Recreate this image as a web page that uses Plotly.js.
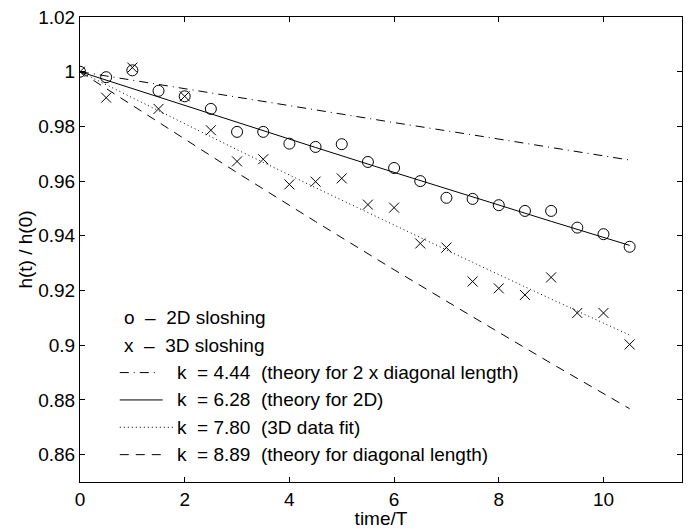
<!DOCTYPE html>
<html>
<head>
<meta charset="utf-8">
<script src="https://cdn.plot.ly/plotly-3.0.1.min.js"></script>
<style>html,body{margin:0;padding:0;background:#fff;}#chart{width:690px;height:529px;}</style>
</head>
<body>
<div id="chart"></div>
<script>
// time / T sample points
const timeT = [0, 0.5, 1, 1.5, 2, 2.5, 3, 3.5, 4, 4.5, 5, 5.5, 6, 6.5, 7, 7.5, 8, 8.5, 9, 9.5, 10, 10.5];
// 2D sloshing (circles)
const slosh2D = [1.000, 0.998, 1.0005, 0.993, 0.991, 0.9864, 0.978, 0.978, 0.9737, 0.9725, 0.9735, 0.967, 0.9648, 0.960, 0.9539, 0.9535, 0.9512, 0.9491, 0.9491, 0.943, 0.9406, 0.936];
// 3D sloshing (crosses)
const slosh3D = [1.000, 0.9905, 1.0015, 0.9864, 0.991, 0.9786, 0.9672, 0.968, 0.9588, 0.9598, 0.961, 0.9514, 0.9503, 0.9372, 0.9357, 0.9233, 0.9208, 0.9184, 0.9248, 0.9118, 0.9118, 0.9003];
// theory / fit curves
const lineT = [0, 1.5, 3, 4.5, 6, 7.5, 9, 10.5];
const k444 = [1, 0.9953, 0.9907, 0.9860, 0.9814, 0.9769, 0.9723, 0.9677];
const k628 = [1, 0.9907, 0.9814, 0.9723, 0.9632, 0.9542, 0.9453, 0.9365];
const k780 = [1, 0.9856, 0.9715, 0.9576, 0.9438, 0.9303, 0.9169, 0.9037];
const k889 = [1, 0.9814, 0.9631, 0.9452, 0.9276, 0.9104, 0.8934, 0.8768];
// tick labels
const xTickVals = [0, 2, 4, 6, 8, 10];
const xTickText = ['0', '2', '4', '6', '8', '10'];
const yTickVals = [0.86, 0.88, 0.90, 0.92, 0.94, 0.96, 0.98, 1.00, 1.02];
const yTickText = ['0.86', '0.88', '0.9', '0.92', '0.94', '0.96', '0.98', '1', '1.02'];
// legend text
const legendText = [
  'o  \u2013  2D sloshing',
  'x  \u2013  3D sloshing',
  'k  = 4.44  (theory for 2 x diagonal length)',
  'k  = 6.28  (theory for 2D)',
  'k  = 7.80  (3D data fit)',
  'k  = 8.89  (theory for diagonal length)'
];
const legendY = [0.91, 0.90, 0.89, 0.88, 0.87, 0.86];

const FONT = 'Liberation Sans, Arial, Helvetica, sans-serif';
const FS = 19;
const dashDot = '9px,5px,1px,5px';
const dashed = '9px,7px';
const dotted = '1px,3px';

const traces = [
  {x: lineT, y: k444, mode: 'lines', line: {color: '#000', width: 1, dash: dashDot}},
  {x: lineT, y: k628, mode: 'lines', line: {color: '#000', width: 1}},
  {x: lineT, y: k780, mode: 'lines', line: {color: '#000', width: 1, dash: dotted}},
  {x: lineT, y: k889, mode: 'lines', line: {color: '#000', width: 1, dash: dashed}},
  {x: timeT, y: slosh2D, mode: 'markers', marker: {symbol: 'circle-open', size: 11, color: '#000', line: {width: 1, color: '#000'}}},
  {x: timeT, y: slosh3D, mode: 'markers', marker: {symbol: 'x-thin-open', size: 10, color: '#000', line: {width: 1, color: '#000'}}}
];

const annotations = legendText.map((t, i) => ({
  x: i < 2 ? 0.80 : 1.81, y: legendY[i], xref: 'x', yref: 'y',
  text: t, showarrow: false, xanchor: 'left', yanchor: 'middle',
  font: {family: FONT, size: FS, color: '#000'}
}));

const sampleDash = [dashDot, 'solid', dotted, dashed];
const sampleEnd = [1.52, 1.58, 1.78, 1.58];
const shapes = sampleDash.map((d, i) => ({
  type: 'line', xref: 'x', yref: 'y',
  x0: 0.76, x1: sampleEnd[i], y0: legendY[i + 2], y1: legendY[i + 2],
  line: {color: '#000', width: 1, dash: d}
}));

const axisCommon = {
  showline: true, linecolor: '#000', linewidth: 1, mirror: 'ticks',
  ticks: 'inside', ticklen: 5, tickwidth: 1, tickcolor: '#000',
  showgrid: false, zeroline: false,
  tickfont: {family: FONT, size: FS, color: '#000'}
};

const layout = {
  width: 690, height: 529,
  margin: {l: 80, r: 8, t: 17, b: 47},
  paper_bgcolor: '#fff', plot_bgcolor: '#fff',
  showlegend: false,
  xaxis: Object.assign({}, axisCommon, {
    range: [0, 11.5], tickmode: 'array', tickvals: xTickVals, ticktext: xTickText,
    title: {text: 'time/T', font: {family: FONT, size: FS, color: '#000'}, standoff: 2}
  }),
  yaxis: Object.assign({}, axisCommon, {
    range: [0.85, 1.02], tickmode: 'array', tickvals: yTickVals, ticktext: yTickText,
    title: {text: 'h(t) / h(0)', font: {family: FONT, size: FS, color: '#000'}, standoff: 0}
  }),
  annotations: annotations,
  shapes: shapes
};

Plotly.newPlot('chart', traces, layout, {staticPlot: true, displayModeBar: false});
</script>
</body>
</html>
